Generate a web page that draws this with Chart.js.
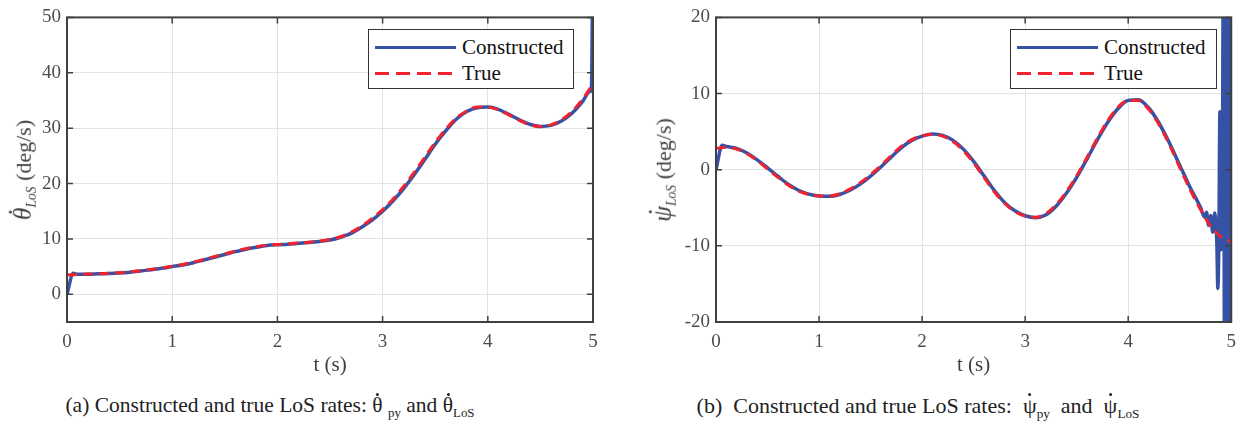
<!DOCTYPE html>
<html>
<head>
<meta charset="utf-8">
<script src="https://cdn.jsdelivr.net/npm/chart.js@4/dist/chart.umd.min.js"></script>
<style>
  body { margin: 0; background: #fff; width: 1245px; height: 430px; position: relative; overflow: hidden;
         font-family: "Liberation Serif", "DejaVu Serif", serif; }
  .panel { position: absolute; top: 0; height: 390px; }
  #panelA { left: 0; width: 622px; }
  #panelB { left: 622px; width: 623px; }
  .ytitle { position: absolute; top: 170px; transform: translate(-50%, -50%) rotate(-90deg);
            white-space: nowrap; font-size: 22px; color: #404040; }
  .ytitle sub { font-size: 0.62em; }
  .ytitle .g { font-size: 1.15em; }
  .dt { position: relative; display: inline-block; }
  .dt::after { content: ''; position: absolute; width: 3px; height: 3px; border-radius: 50%;
               background: currentColor; left: 52%; top: -0.02em; transform: translateX(-50%); }
  .ytitle .dt::after { left: 62%; top: 0.02em; }
  .legend { position: absolute; top: 29px; height: 60px; border: 1px solid #333; background: #fff; box-sizing: border-box; }
  .legend .row { position: absolute; left: 6px; height: 26px; display: flex; align-items: center; font-size: 21px; color: #111; }
  .sample { width: 81px; height: 3px; margin-right: 6px; }
  .solid { background: #3652a5; }
  .dashed { background: repeating-linear-gradient(90deg, #f2222e 0 14px, transparent 14px 21px); }
  .caption { position: absolute; top: 393px; font-size: 22px; color: #222; white-space: nowrap; transform: translateX(-50%); }
  .caption sub { font-size: 0.6em; }
</style>
</head>
<body>
<div class="panel" id="panelA"><canvas id="chartA" width="622" height="390"></canvas></div>
<div class="panel" id="panelB"><canvas id="chartB" width="623" height="390"></canvas></div>

<div class="ytitle" style="left:24px"><i class="g dt">θ</i><sub><i>LoS</i></sub>&nbsp;(deg/s)</div>
<div class="ytitle" style="left:664px"><i class="g dt">ψ</i><sub><i>LoS</i></sub>&nbsp;(deg/s)</div>

<div class="legend" style="left:368px; width:206px">
  <div class="row" style="top:4px"><div class="sample solid"></div>Constructed</div>
  <div class="row" style="top:30px"><div class="sample dashed"></div>True</div>
</div>
<div class="legend" style="left:1010px; width:207px">
  <div class="row" style="top:4px"><div class="sample solid"></div>Constructed</div>
  <div class="row" style="top:30px"><div class="sample dashed"></div>True</div>
</div>

<div class="caption" style="left:270px; font-size:21.5px">(a) Constructed and true LoS rates: <span class="dt">θ</span> <sub>py</sub> and <span class="dt">θ</span><sub>LoS</sub></div>
<div class="caption" style="left:918px">(b) &nbsp;Constructed and true LoS rates: &nbsp;<span class="dt">ψ</span><sub>py</sub> &nbsp;and &nbsp;<span class="dt">ψ</span><sub>LoS</sub></div>

<script>
// time grid (s) for the "True" curves
var tGrid = [0, 0.1, 0.2, 0.3, 0.4, 0.5, 0.6, 0.7, 0.8, 0.9,
             1.0, 1.1, 1.2, 1.3, 1.4, 1.5, 1.6, 1.7, 1.8, 1.9,
             2.0, 2.1, 2.2, 2.3, 2.4, 2.5, 2.6, 2.7, 2.8, 2.9,
             3.0, 3.1, 3.2, 3.3, 3.4, 3.5, 3.6, 3.7, 3.8, 3.9,
             4.0, 4.1, 4.2, 4.3, 4.4, 4.5, 4.6, 4.7, 4.8, 4.9, 5.0];

// (a) theta_LoS rate, deg/s
var thetaTrue = [3.5, 3.6, 3.65, 3.7, 3.8, 3.9, 4.05, 4.25, 4.5, 4.75,
                 5.05, 5.4, 5.8, 6.3, 6.8, 7.3, 7.8, 8.25, 8.6, 8.85,
                 9.0, 9.1, 9.25, 9.4, 9.6, 9.9, 10.4, 11.2, 12.3, 13.7,
                 15.3, 17.2, 19.5, 22.0, 24.7, 27.4, 29.8, 31.8, 33.1, 33.8,
                 33.8, 33.3, 32.4, 31.4, 30.6, 30.3, 30.6, 31.5, 33.0, 35.2, 38.0];

var tTheta = [0, 0.06, 0.1, 0.2, 0.3, 0.4, 0.5, 0.6, 0.7, 0.8, 0.9,
              1.0, 1.1, 1.2, 1.3, 1.4, 1.5, 1.6, 1.7, 1.8, 1.9,
              2.0, 2.1, 2.2, 2.3, 2.4, 2.5, 2.6, 2.7, 2.8, 2.9,
              3.0, 3.1, 3.2, 3.3, 3.4, 3.5, 3.6, 3.7, 3.8, 3.9,
              4.0, 4.1, 4.2, 4.3, 4.4, 4.5, 4.6, 4.7, 4.8, 4.9,
              4.97, 4.985, 5.0];
var thetaCons = [0, 3.8, 3.6, 3.6, 3.7, 3.75, 3.85, 4.0, 4.2, 4.45, 4.7,
                 5.0, 5.3, 5.7, 6.2, 6.7, 7.2, 7.7, 8.15, 8.5, 8.8,
                 8.95, 9.05, 9.2, 9.35, 9.55, 9.8, 10.3, 11.0, 12.1, 13.4,
                 15.0, 16.9, 19.1, 21.6, 24.3, 27.1, 29.5, 31.6, 33.0, 33.7,
                 33.8, 33.4, 32.5, 31.5, 30.7, 30.3, 30.5, 31.3, 32.7, 34.8,
                 36.6, 37.2, 65];

// (b) psi_LoS rate, deg/s
var psiTrue = [2.8, 2.95, 2.7, 2.1, 1.2, 0.1, -1.0, -2.0, -2.8, -3.25,
               -3.45, -3.45, -3.15, -2.55, -1.7, -0.65, 0.55, 1.85, 3.1, 3.95,
               4.45, 4.65, 4.4, 3.7, 2.5, 0.9, -1.0, -2.9, -4.4, -5.5,
               -6.1, -6.25, -5.8, -4.6, -2.9, -0.8, 1.6, 4.1, 6.4, 8.2,
               9.1, 9.1, 7.9, 5.9, 3.3, 0.3, -2.6, -5.2, -7.4, -8.8, -9.5];

var tPsi = [0, 0.06, 0.1, 0.2, 0.3, 0.4, 0.5, 0.6, 0.7, 0.8, 0.9,
            1.0, 1.1, 1.2, 1.3, 1.4, 1.5, 1.6, 1.7, 1.8, 1.9,
            2.0, 2.1, 2.2, 2.3, 2.4, 2.5, 2.6, 2.7, 2.8, 2.9,
            3.0, 3.1, 3.2, 3.3, 3.4, 3.5, 3.6, 3.7, 3.8, 3.9,
            4.0, 4.1, 4.2, 4.3, 4.4, 4.5, 4.6, 4.7,
            4.74, 4.76, 4.78, 4.80, 4.82, 4.84, 4.86, 4.87, 4.88, 4.89, 4.90, 4.91,
            4.925, 4.935, 4.945, 4.955, 4.965, 4.975, 4.985, 4.995, 5.0];
var psiCons = [0, 3.2, 3.05, 2.8, 2.2, 1.3, 0.25, -0.85, -1.9, -2.7, -3.2,
               -3.45, -3.5, -3.25, -2.7, -1.9, -0.85, 0.35, 1.65, 2.9, 3.85,
               4.4, 4.7, 4.5, 3.85, 2.7, 1.1, -0.8, -2.7, -4.3, -5.4,
               -6.05, -6.3, -5.95, -4.8, -3.1, -1.0, 1.4, 3.9, 6.2, 8.0,
               9.1, 9.2, 8.1, 6.1, 3.5, 0.6, -2.3, -4.9,
               -6.2, -5.6, -7.3, -6.0, -8.2, -5.7, -9.6, -15.6, -9.0, 7.6, -10.5, -9.5,
               30, -30, 30, -30, 30, -30, 30, -30, 30];

var xTicks = [0, 1, 2, 3, 4, 5];
var thetaTicks = [0, 10, 20, 30, 40, 50];
var psiTicks = [-20, -10, 0, 10, 20];

var BLUE = '#3652a5', RED = '#f2222e', FRAME = '#404040';
var FONT = "'Liberation Serif', 'DejaVu Serif', serif";

function pts(xs, ys) {
    return xs.map(function (x, i) { return { x: x, y: ys[i] }; });
}

// MATLAB-like box with inward tick marks on all four sides
var framePlugin = {
    id: 'frame',
    afterDatasetsDraw: function (chart) {
        var ctx = chart.ctx, a = chart.chartArea, sx = chart.scales.x, sy = chart.scales.y;
        ctx.save();
        ctx.strokeStyle = FRAME;
        ctx.lineWidth = 1.5;
        ctx.beginPath();
        sx.ticks.forEach(function (t) {
            var p = sx.getPixelForValue(t.value);
            ctx.moveTo(p, a.bottom); ctx.lineTo(p, a.bottom - 6);
            ctx.moveTo(p, a.top); ctx.lineTo(p, a.top + 6);
        });
        sy.ticks.forEach(function (t) {
            var p = sy.getPixelForValue(t.value);
            ctx.moveTo(a.left, p); ctx.lineTo(a.left + 6, p);
            ctx.moveTo(a.right, p); ctx.lineTo(a.right - 6, p);
        });
        ctx.stroke();
        ctx.lineWidth = 2;
        ctx.strokeRect(a.left, a.top, a.right - a.left, a.bottom - a.top);
        ctx.restore();
    }
};

function makeChart(id, trueData, consData, yMin, yMax, yTicks, yWidth, padRight) {
    return new Chart(document.getElementById(id), {
        type: 'line',
        data: {
            datasets: [{
                label: 'True',
                data: trueData,
                borderColor: RED,
                borderWidth: 3,
                borderDash: [10, 6],
                pointRadius: 0,
                cubicInterpolationMode: 'monotone',
                order: 0
            }, {
                label: 'Constructed',
                data: consData,
                borderColor: BLUE,
                borderWidth: 3.5,
                pointRadius: 0,
                cubicInterpolationMode: 'monotone',
                order: 1
            }]
        },
        options: {
            responsive: false,
            animation: false,
            events: [],
            layout: { padding: { left: 0, top: 14, right: padRight, bottom: 0 } },
            plugins: { legend: { display: false }, tooltip: { enabled: false } },
            scales: {
                x: {
                    type: 'linear', min: 0, max: 5,
                    afterBuildTicks: function (s) { s.ticks = xTicks.map(function (v) { return { value: v }; }); },
                    afterFit: function (s) { s.height = 68; },
                    grid: { color: '#e2e2e2', lineWidth: 1, drawTicks: false },
                    border: { display: false },
                    ticks: { padding: 9, color: '#4d4d4d', font: { family: FONT, size: 19 } },
                    title: { display: true, text: 't (s)', color: '#404040',
                             font: { family: FONT, size: 21 }, padding: { top: 0, bottom: 12 } }
                },
                y: {
                    type: 'linear', min: yMin, max: yMax,
                    afterBuildTicks: function (s) { s.ticks = yTicks.map(function (v) { return { value: v }; }); },
                    afterFit: function (s) { s.width = yWidth; },
                    grid: { color: '#e2e2e2', lineWidth: 1, drawTicks: false },
                    border: { display: false },
                    ticks: { padding: 6, color: '#4d4d4d', font: { family: FONT, size: 19 } }
                }
            }
        },
        plugins: [framePlugin]
    });
}

makeChart('chartA', pts(tGrid, thetaTrue), pts(tTheta, thetaCons), -5, 50, thetaTicks, 67, 29);
makeChart('chartB', pts(tGrid, psiTrue), pts(tPsi, psiCons), -20, 20, psiTicks, 94, 9);
</script>
</body>
</html>
